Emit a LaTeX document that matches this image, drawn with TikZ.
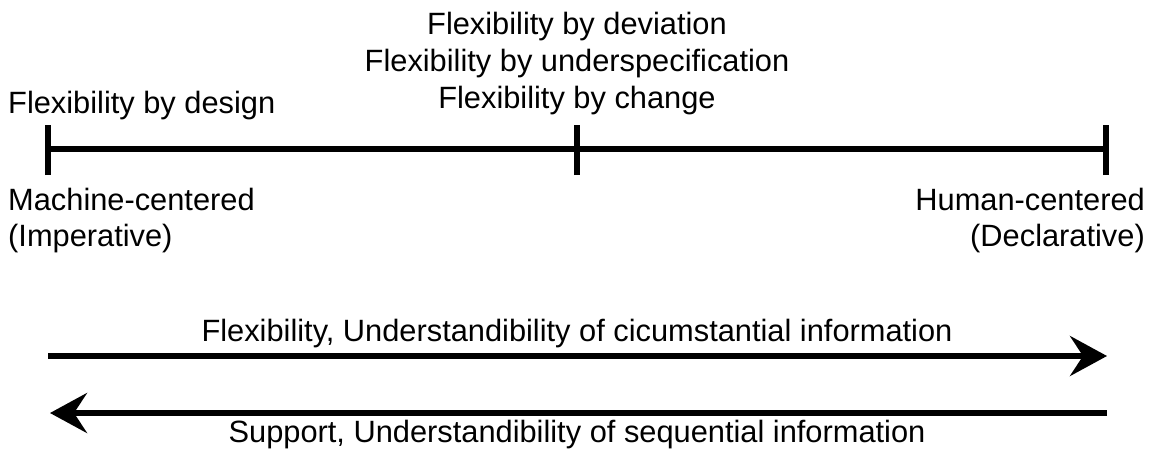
\documentclass[tikz,border=0pt]{standalone}
\usepackage{fontspec}
\setmainfont{Liberation Sans}
\usetikzlibrary{arrows.meta}
\begin{document}
\begin{tikzpicture}[x=1pt,y=-1pt,
  lbl/.style={inner sep=0pt,font=\fontsize{30.8}{37}\selectfont},
  axis/.style={line width=5.5pt},
  bigarrow/.style={line width=5.5pt,-{Stealth[length=37pt,width=40pt,inset=13pt]}}]
  \useasboundingbox (0,0) rectangle (1149,450);
  % scale with three ticks
  \coordinate (L) at (48,149);
  \coordinate (M) at (577,149);
  \coordinate (R) at (1106,149);
  \draw[axis] (L) -- (R);
  \draw[axis] ([yshift=-26pt]L) -- ([yshift=24pt]L);
  \draw[axis] ([yshift=-26pt]M) -- ([yshift=24pt]M);
  \draw[axis] ([yshift=-26pt]R) -- ([yshift=24pt]R);
  % labels above the scale
  \node[lbl,anchor=base west] (fdesign) at (8,113) {Flexibility by design};
  \node[lbl,anchor=base] (fdev) at (577,34) {Flexibility by deviation};
  \node[lbl,anchor=base] (funder) at (577,71) {Flexibility by underspecification};
  \node[lbl,anchor=base] (fchange) at (577,108) {Flexibility by change};
  % labels below the ends
  \node[lbl,anchor=base west] (mach) at (8,210) {Machine-centered};
  \node[lbl,anchor=base west] (imp) at (8,246) {(Imperative)};
  \node[lbl,anchor=base east] (hum) at (1145,210) {Human-centered};
  \node[lbl,anchor=base east] (decl) at (1145,246) {(Declarative)};
  % direction arrows
  \coordinate (a1s) at (48,356);
  \coordinate (a1e) at (1107,356);
  \coordinate (a2s) at (1107,413);
  \coordinate (a2e) at (50,413);
  \draw[bigarrow] (a1s) -- (a1e);
  \draw[bigarrow] (a2s) -- (a2e);
  \node[lbl,anchor=base] (toplbl) at (577,341) {Flexibility, Understandibility of cicumstantial information};
  \node[lbl,anchor=base] (botlbl) at (577,442) {Support, Understandibility of sequential information};
\end{tikzpicture}
\end{document}
